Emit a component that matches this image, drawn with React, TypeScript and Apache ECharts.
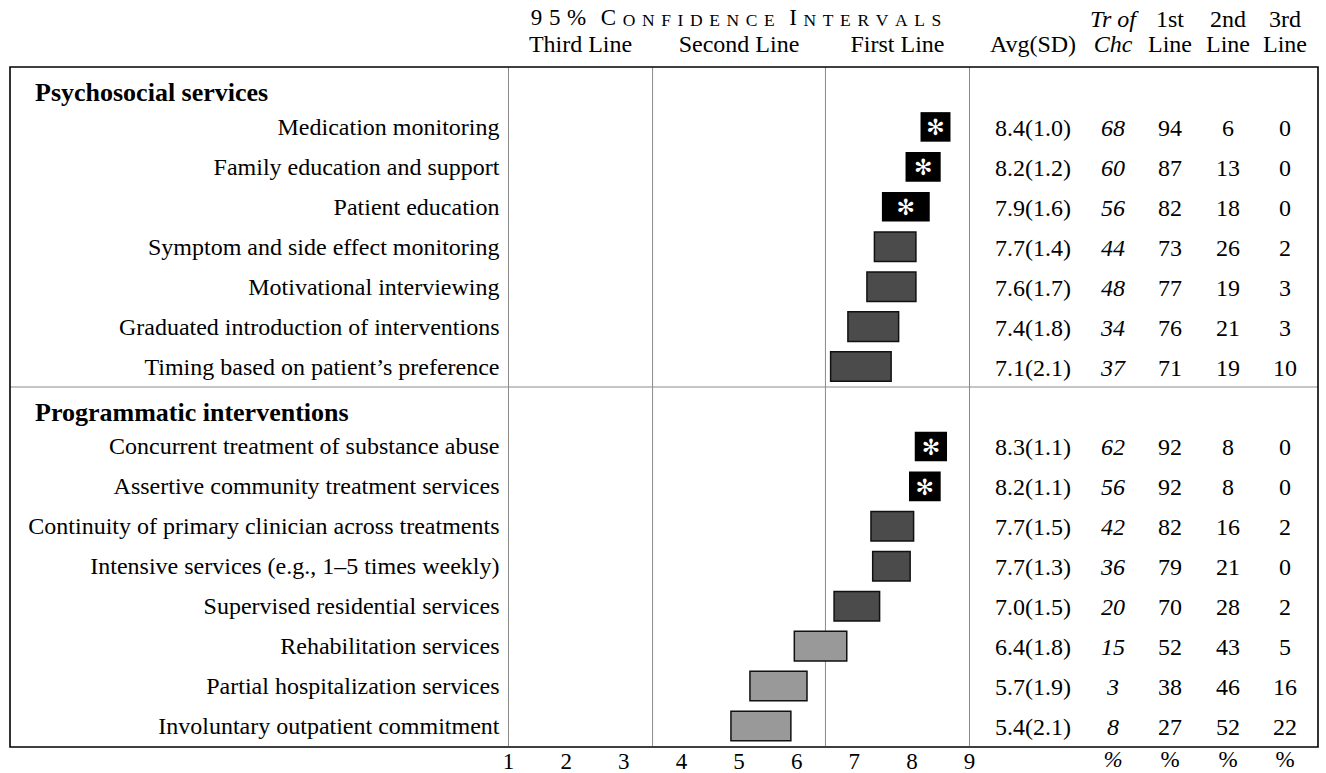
import React, { useEffect, useRef } from "react";
import * as echarts from "echarts";

const FONT = '"Liberation Serif", "Times New Roman", serif';
const FS = 24;

const sectionTitles = ["Psychosocial services", "Programmatic interventions"];
const psychItems = [
  "Medication monitoring",
  "Family education and support",
  "Patient education",
  "Symptom and side effect monitoring",
  "Motivational interviewing",
  "Graduated introduction of interventions",
  "Timing based on patient\u2019s preference",
];
const progItems = [
  "Concurrent treatment of substance abuse",
  "Assertive community treatment services",
  "Continuity of primary clinician across treatments",
  "Intensive services (e.g., 1\u20135 times weekly)",
  "Supervised residential services",
  "Rehabilitation services",
  "Partial hospitalization services",
  "Involuntary outpatient commitment",
];
const avg = [8.4, 8.2, 7.9, 7.7, 7.6, 7.4, 7.1, 8.3, 8.2, 7.7, 7.7, 7.0, 6.4, 5.7, 5.4];
const sd = [1.0, 1.2, 1.6, 1.4, 1.7, 1.8, 2.1, 1.1, 1.1, 1.5, 1.3, 1.5, 1.8, 1.9, 2.1];
const trOfChc = [68, 60, 56, 44, 48, 34, 37, 62, 56, 42, 36, 20, 15, 3, 8];
const firstLine = [94, 87, 82, 73, 77, 76, 71, 92, 92, 82, 79, 70, 52, 38, 27];
const secondLine = [6, 13, 18, 26, 19, 21, 19, 8, 8, 16, 21, 28, 43, 46, 52];
const thirdLine = [0, 0, 0, 2, 3, 3, 10, 0, 0, 2, 0, 2, 5, 16, 22];
const ciLow = [8.15, 7.89, 7.48, 7.35, 7.22, 6.89, 6.59, 8.05, 7.95, 7.29, 7.32, 6.65, 5.96, 5.19, 4.86];
const ciHigh = [8.67, 8.5, 8.31, 8.07, 8.07, 7.77, 7.64, 8.61, 8.5, 8.03, 7.97, 7.44, 6.87, 6.18, 5.9];
const tier = ["sig", "sig", "sig", "first", "first", "first", "first", "sig", "sig", "first", "first", "first", "second", "second", "second"];
const zoneBounds = [1, 3.5, 6.5, 9];
const zoneNames = ["Third Line", "Second Line", "First Line"];
const columnHeadTop = ["Tr of", "1st", "2nd", "3rd"];
const columnHeadBottom = ["Chc", "Line", "Line", "Line"];
const titleText = "95% CONFIDENCE INTERVALS";

const rowLabels = [sectionTitles[0], ...psychItems, sectionTitles[1], ...progItems];
const itemRow = (i: number) => (i < psychItems.length ? i + 1 : i + 2);

// layout (pixels)
const GRID_LEFT = 508.5;
const GRID_RIGHT_X = 969.5;
const TOP = 67;
const BOTTOM = 747;
const BOX_L = 10;
const BOX_R = 1318;
const COLS = [1033, 1113, 1170, 1228, 1285];

export default function App() {
  const ref = useRef<HTMLDivElement>(null);
  useEffect(() => {
    document.body.style.margin = "0";
    const chart = echarts.init(ref.current!, undefined, { renderer: "svg" });

    const data = avg.map((_, i) => [ciLow[i], ciHigh[i], itemRow(i), i]);

    let fmt = "";
    const words = titleText.split(" ");
    words.forEach((w, wi) => {
      if (wi > 0) fmt += "{s| }";
      for (let k = 0; k < w.length; k++) {
        const ch = w[k];
        const big = k === 0 || /[0-9%]/.test(ch);
        fmt += `{${big ? "a" : "b"}|${ch}}`;
      }
    });

    const x = (v: number) => GRID_LEFT + ((v - 1) / 8) * (GRID_RIGHT_X - GRID_LEFT);

    const graphics: any[] = [
      {
        type: "rect",
        silent: true,
        z: 20,
        shape: { x: BOX_L, y: TOP, width: BOX_R - BOX_L, height: BOTTOM - TOP },
        style: { fill: "none", stroke: "#000", lineWidth: 1.6 },
      },
      {
        type: "line",
        silent: true,
        z: 19,
        shape: { x1: BOX_L, y1: TOP + 8 * 40, x2: BOX_R, y2: TOP + 8 * 40 },
        style: { stroke: "#8a8a8a", lineWidth: 1 },
      },
      {
        type: "text",
        x: 736,
        y: 19,
        style: {
          text: fmt,
          align: "center",
          verticalAlign: "middle",
          fill: "#000",
          rich: {
            a: { fontFamily: FONT, fontSize: 23, padding: [0, 3.3], lineHeight: 20, verticalAlign: "bottom" },
            b: { fontFamily: FONT, fontSize: 17.5, padding: [0, 3.3], lineHeight: 20, verticalAlign: "bottom" },
            s: { fontFamily: FONT, fontSize: 23, width: 8, lineHeight: 20, verticalAlign: "bottom" },
          },
        },
      },
    ];
    zoneNames.forEach((n, i) => {
      graphics.push({
        type: "text",
        x: (x(zoneBounds[i]) + x(zoneBounds[i + 1])) / 2,
        y: 44,
        style: { text: n, font: `${FS}px ${FONT}`, fill: "#000", align: "center", verticalAlign: "middle" },
      });
    });
    graphics.push({
      type: "text",
      x: COLS[0],
      y: 44,
      style: { text: "Avg(SD)", font: `${FS}px ${FONT}`, fill: "#000", align: "center", verticalAlign: "middle" },
    });
    columnHeadTop.forEach((t, i) => {
      const it = i === 0 ? "italic " : "";
      graphics.push({
        type: "text",
        x: COLS[i + 1],
        y: 19,
        style: { text: t, font: `${it}${FS}px ${FONT}`, fill: "#000", align: "center", verticalAlign: "middle" },
      });
      graphics.push({
        type: "text",
        x: COLS[i + 1],
        y: 44,
        style: { text: columnHeadBottom[i], font: `${it}${FS}px ${FONT}`, fill: "#000", align: "center", verticalAlign: "middle" },
      });
      graphics.push({
        type: "text",
        x: COLS[i + 1],
        y: 759,
        style: { text: "%", font: `${it}23px ${FONT}`, fill: "#000", align: "center", verticalAlign: "middle" },
      });
    });

    chart.setOption({
      animation: false,
      textStyle: { fontFamily: FONT },
      grid: { left: GRID_LEFT, top: TOP, width: GRID_RIGHT_X - GRID_LEFT, height: BOTTOM - TOP, containLabel: false },
      xAxis: {
        type: "value",
        min: 1,
        max: 9,
        interval: 1,
        axisLine: { show: false },
        axisTick: { show: false },
        splitLine: { show: false },
        axisLabel: { color: "#000", fontSize: 23, fontFamily: FONT, margin: 4 },
      },
      yAxis: {
        type: "category",
        inverse: true,
        data: rowLabels,
        axisLine: { show: false },
        axisTick: { show: false },
        splitLine: { show: false },
        axisLabel: {
          color: "#000",
          fontSize: FS,
          fontFamily: FONT,
          margin: 9,
          formatter: (v: string) => (sectionTitles.includes(v) ? `{h|${v}}` : v),
          rich: {
            h: {
              fontSize: 26,
              fontWeight: "bold",
              fontFamily: FONT,
              color: "#000",
              width: GRID_LEFT - 9 - 35,
              align: "left",
              padding: [12, 0, 0, 0],
            },
          },
        },
      },
      graphic: graphics,
      series: [
        {
          type: "custom",
          name: "zones",
          silent: true,
          data: zoneBounds.map((b) => [b, 0]),
          encode: { x: 0, y: 1 },
          renderItem: (params: any, api: any) => {
            const p = api.coord([api.value(0), 0]);
            const cs = params.coordSys;
            return {
              type: "line",
              shape: { x1: p[0], y1: cs.y, x2: p[0], y2: cs.y + cs.height },
              style: { stroke: "#8a8a8a", lineWidth: 1 },
            };
          },
        },
        {
          type: "custom",
          name: "ci",
          data,
          encode: { x: [0, 1], y: 2 },
          renderItem: (params: any, api: any) => {
            const lo = api.value(0);
            const hi = api.value(1);
            const row = api.value(2);
            const i = api.value(3);
            const p0 = api.coord([lo, row]);
            const p1 = api.coord([hi, row]);
            const h = api.size([0, 1])[1] * 0.74;
            const t = tier[i];
            const fill = t === "sig" ? "#000" : t === "first" ? "#4b4b4b" : "#999999";
            const children: any[] = [
              {
                type: "rect",
                shape: { x: p0[0], y: p0[1] - h / 2, width: p1[0] - p0[0], height: h },
                style: { fill, stroke: t === "sig" ? "#000" : "#111", lineWidth: t === "sig" ? 0 : 1.5 },
              },
            ];
            if (t === "sig") {
              children.push({
                type: "text",
                x: (p0[0] + p1[0]) / 2,
                y: p0[1] + 1,
                style: {
                  text: "\u273B",
                  fill: "#fff",
                  font: `bold 22px "DejaVu Sans"`,
                  align: "center",
                  verticalAlign: "middle",
                },
              });
            }
            const cells = [
              `${avg[i].toFixed(1)}(${sd[i].toFixed(1)})`,
              String(trOfChc[i]),
              String(firstLine[i]),
              String(secondLine[i]),
              String(thirdLine[i]),
            ];
            cells.forEach((c, k) => {
              children.push({
                type: "text",
                x: COLS[k],
                y: p0[1] + 1,
                style: {
                  text: c,
                  fill: "#000",
                  font: `${k === 1 ? "italic " : ""}${FS}px ${FONT}`,
                  align: "center",
                  verticalAlign: "middle",
                },
              });
            });
            return { type: "group", children };
          },
        },
      ],
    });
    return () => chart.dispose();
  }, []);
  return <div ref={ref} style={{ width: 1326, height: 773 }} />;
}
